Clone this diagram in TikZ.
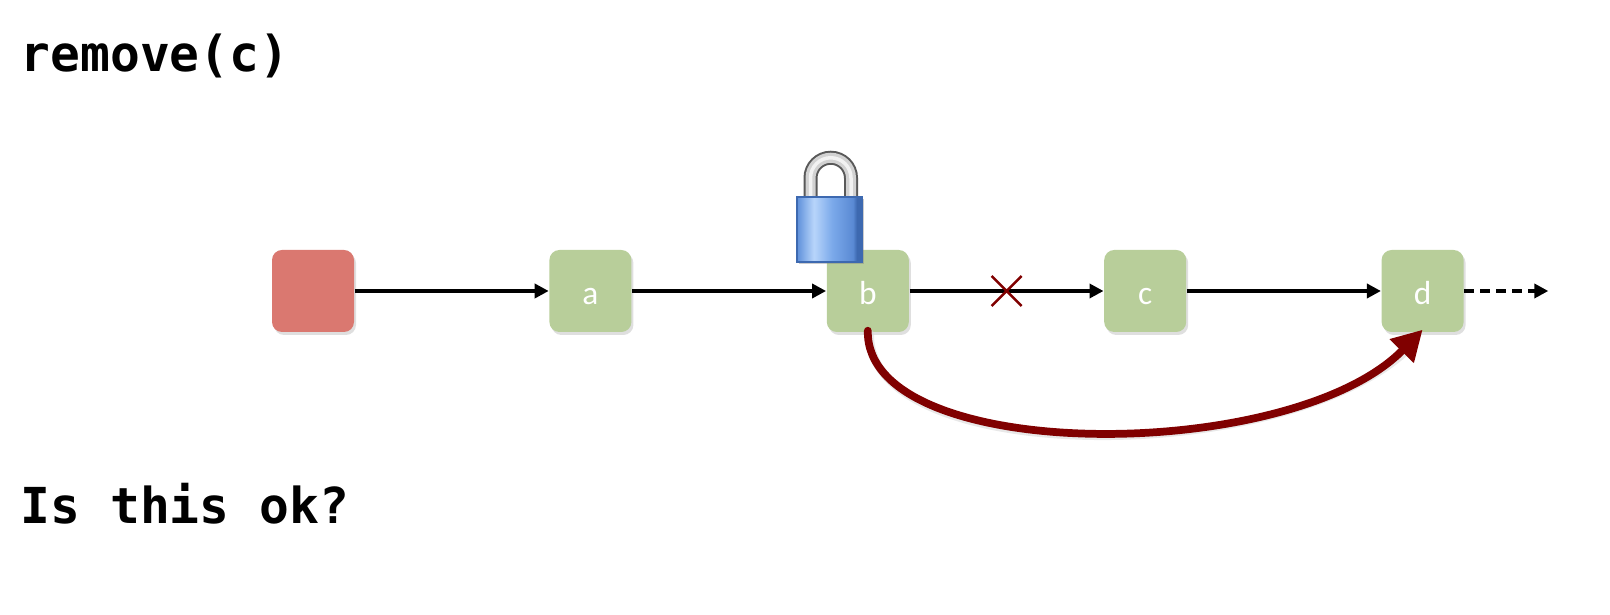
\documentclass[tikz,border=0pt]{standalone}
\usepackage{fontspec}
\setmainfont{Carlito}
\setmonofont{DejaVu Sans Mono}
\usetikzlibrary{arrows.meta, positioning, shadows, calc}

\definecolor{headred}{HTML}{DA7870}
\definecolor{nodegreen}{HTML}{B8CE9A}
\definecolor{darkred}{HTML}{800000}
\definecolor{lockA}{HTML}{5E90DA}
\definecolor{lockB}{HTML}{B8D5FB}
\definecolor{lockC}{HTML}{7BA9EA}
\definecolor{lockD}{HTML}{5A8AD4}
\definecolor{lockE}{HTML}{3D69B0}
\pgfdeclarehorizontalshading{lockblue}{100bp}{color(0bp)=(lockA); color(25bp)=(lockA); color(38bp)=(lockB);
    color(52bp)=(lockC); color(68bp)=(lockD); color(71bp)=(lockE); color(75bp)=(lockE); color(100bp)=(lockE)}

\begin{document}
\begin{tikzpicture}[
        listnode/.style={fill=nodegreen, rounded corners=0.1cm, minimum size=0.82cm, inner sep=0pt,
            text=white, font=\fontsize{9.5}{11}\selectfont, text height=0.28cm, text depth=0cm,
            drop shadow={opacity=0.25, shadow xshift=0.02cm, shadow yshift=-0.03cm}},
        link/.style={line width=1.2pt, -{Triangle[length=0.14cm, width=0.14cm]}},
        title/.style={font=\ttfamily\bfseries\fontsize{14.1}{16}\selectfont, anchor=base west, inner sep=0pt},
        node distance=1.94cm
    ]
            \node[title] (op) at (0.2,5.43) {remove(c)};
            \node[title] (question) at (0.2,0.91) {Is this ok?};

            \node[listnode, fill=headred] (head) at (3.13,3.24) {};
            \node[listnode, right=of head] (a) {a};
            \node[listnode, right=of a] (b) {b};
            \node[listnode, right=of b] (c) {c};
            \node[listnode, right=of c] (d) {d};
            \coordinate[right=0.84cm of d] (tail);

            \draw[link] (head) -- (a);
            \draw[link] (a) -- (b);
            \draw[link] (b) -- (c);
            \draw[link] (c) -- (d);
            \draw[link, dashed, dash pattern=on 0.1cm off 0.06cm] (d) -- (tail);

            % crossed out link
            \coordinate (cut) at ($(b)!0.5!(c)$);
            \draw[darkred, line width=0.7pt] ([shift={(-0.15,-0.15)}]cut) -- ([shift={(0.15,0.15)}]cut)
                ([shift={(-0.15,0.15)}]cut) -- ([shift={(0.15,-0.15)}]cut);

            % new link from b to d
            \draw[black!15, line width=2.4pt, line cap=round, opacity=0.6]
                ([shift={(0.02,-0.01)}]b.south) .. controls (8.67,1.47) and (12.92,1.47) .. ([shift={(-0.1,-0.12)}]d.south);
            \draw[darkred, line width=2.2pt, line cap=round, -{Triangle[length=0.3cm, width=0.32cm]}]
                ([yshift=0.02cm]b.south) .. controls (8.65,1.5) and (12.9,1.5) .. ([yshift=0.03cm]d.south);

            % lock on b
            \draw[gray!70!black, line width=0.14cm] (8.105,4.13) -- (8.105,4.37) arc[start angle=180, end angle=0, radius=0.2025] -- (8.51,4.13);
            \draw[gray!35, line width=0.1cm] (8.105,4.13) -- (8.105,4.37) arc[start angle=180, end angle=0, radius=0.2025] -- (8.51,4.13);
            \draw[white!90!gray, line width=0.035cm] (8.105,4.13) -- (8.105,4.37) arc[start angle=180, end angle=0, radius=0.2025] -- (8.51,4.13);
            \shade[shading=lockblue, drop shadow={opacity=0.4, shadow xshift=0.02cm, shadow yshift=-0.02cm}] (7.97,3.53) rectangle (8.62,4.18);
            \draw[lockE, line width=0.3pt] (7.97,3.53) rectangle (8.62,4.18);

            \pgfresetboundingbox
            \useasboundingbox (0,0) rectangle (16.1,6.15);
        \end{tikzpicture}
\end{document}
